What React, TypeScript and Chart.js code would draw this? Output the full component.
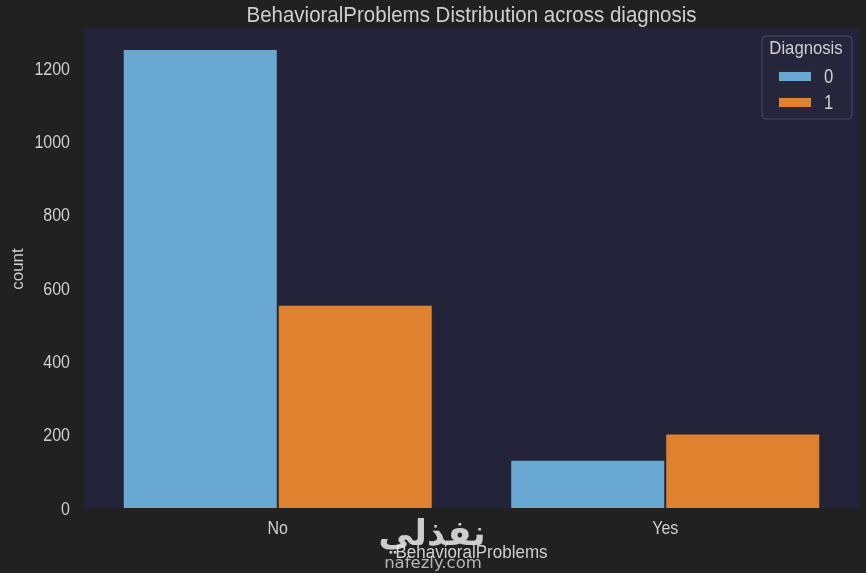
import React, { useEffect, useRef } from "react";
import { Chart, registerables } from "chart.js";

Chart.register(...registerables);

const categories = ["No", "Yes"];
const diagnosisLabels = ["0", "1"];
const diagnosis0Counts = [1253, 132];
const diagnosis1Counts = [555, 203];
const yTicks = [0, 200, 400, 600, 800, 1000, 1200];
const yMax = 1310;

const chartTitle = "BehavioralProblems Distribution across diagnosis";
const xTitle = "BehavioralProblems";
const yTitle = "count";
const legendTitle = "Diagnosis";

const colors = ["#69a8d3", "#e0812f"];
const textColor = "#cfcfcf";
const FONT = "'Liberation Sans', Arial, sans-serif";

function drawText(
  ctx: CanvasRenderingContext2D,
  text: string,
  x: number,
  baseline: number,
  size: number,
  align: CanvasTextAlign,
  vScale: number
) {
  ctx.save();
  ctx.translate(x, baseline);
  ctx.scale(1, vScale);
  ctx.font = `${size}px ${FONT}`;
  ctx.textAlign = align;
  ctx.textBaseline = "alphabetic";
  ctx.fillStyle = textColor;
  ctx.fillText(text, 0, 0);
  ctx.restore();
}

const decorPlugin = {
  id: "decor",
  beforeDraw(chart: any) {
    const { ctx, chartArea } = chart;
    ctx.save();
    ctx.fillStyle = "#23233a";
    ctx.fillRect(chartArea.left, chartArea.top, chartArea.right - chartArea.left, chartArea.bottom - chartArea.top);
    ctx.restore();
  },
  afterDraw(chart: any) {
    const { ctx, chartArea } = chart;
    const xs = chart.scales.x;
    const ys = chart.scales.y;
    const cx = (chartArea.left + chartArea.right) / 2;

    // title
    drawText(ctx, chartTitle, cx, 22, 20.5, "center", 1.1);

    // y ticks
    ys.ticks.forEach((t: any, i: number) => {
      const py = ys.getPixelForTick(i);
      drawText(ctx, String(t.value), chartArea.left - 14, py + 6.6, 16, "right", 1.16);
    });
    // x ticks
    xs.ticks.forEach((t: any, i: number) => {
      const px = xs.getPixelForTick(i);
      drawText(ctx, String(categories[i]), px, chartArea.bottom + 26, 16, "center", 1.16);
    });
    // x title
    drawText(ctx, xTitle, cx, chartArea.bottom + 50, 17, "center", 1.05);
    // y title
    ctx.save();
    ctx.translate(23, (chartArea.top + chartArea.bottom) / 2 + 1);
    ctx.rotate(-Math.PI / 2);
    ctx.font = `17px ${FONT}`;
    ctx.textAlign = "center";
    ctx.textBaseline = "alphabetic";
    ctx.fillStyle = textColor;
    ctx.fillText(yTitle, 0, 0);
    ctx.restore();

    // legend
    ctx.save();
    const bx = chartArea.right - 97;
    const by = chartArea.top + 8;
    const bw = 90;
    const bh = 83;
    const r = 4;
    ctx.beginPath();
    ctx.moveTo(bx + r, by);
    ctx.lineTo(bx + bw - r, by);
    ctx.quadraticCurveTo(bx + bw, by, bx + bw, by + r);
    ctx.lineTo(bx + bw, by + bh - r);
    ctx.quadraticCurveTo(bx + bw, by + bh, bx + bw - r, by + bh);
    ctx.lineTo(bx + r, by + bh);
    ctx.quadraticCurveTo(bx, by + bh, bx, by + bh - r);
    ctx.lineTo(bx, by + r);
    ctx.quadraticCurveTo(bx, by, bx + r, by);
    ctx.closePath();
    ctx.fillStyle = "#25263c";
    ctx.fill();
    ctx.strokeStyle = "#4a4b5c";
    ctx.lineWidth = 1;
    ctx.stroke();
    ctx.restore();

    drawText(ctx, legendTitle, bx + 44, by + 18, 16.7, "center", 1.1);
    chart.data.datasets.forEach((ds: any, i: number) => {
      const top = by + 35 + i * 26;
      ctx.save();
      ctx.fillStyle = ds.backgroundColor;
      ctx.fillRect(bx + 16, top, 34, 11);
      ctx.strokeStyle = "#2b2b2b";
      ctx.lineWidth = 1;
      ctx.strokeRect(bx + 16.5, top + 0.5, 33, 10);
      ctx.restore();
      drawText(ctx, ds.label, bx + 62, top + 12, 16.7, "left", 1.16);
    });
  },
};

export default function App() {
  const ref = useRef<HTMLCanvasElement>(null);

  useEffect(() => {
    document.body.style.margin = "0";
    const chart = new Chart(ref.current as HTMLCanvasElement, {
      type: "bar",
      data: {
        labels: categories,
        datasets: [
          {
            label: diagnosisLabels[0],
            data: diagnosis0Counts,
            backgroundColor: colors[0],
            borderColor: "#2b2b2b",
            borderWidth: 1,
            categoryPercentage: 0.8,
            barPercentage: 1.0,
          },
          {
            label: diagnosisLabels[1],
            data: diagnosis1Counts,
            backgroundColor: colors[1],
            borderColor: "#2b2b2b",
            borderWidth: 1,
            categoryPercentage: 0.8,
            barPercentage: 1.0,
          },
        ],
      },
      options: {
        animation: false,
        responsive: false,
        maintainAspectRatio: false,
        layout: { padding: { top: 28, right: 7, left: 0, bottom: 0 } },
        plugins: {
          legend: { display: false },
          title: { display: false },
          tooltip: { enabled: false },
        },
        scales: {
          x: {
            grid: { display: false },
            border: { display: false },
            ticks: { display: false },
            afterFit: (s: any) => {
              s.height = 65;
            },
          },
          y: {
            min: 0,
            max: yMax,
            afterBuildTicks: (s: any) => {
              s.ticks = yTicks.map((v) => ({ value: v }));
            },
            grid: { display: false },
            border: { display: false },
            ticks: { display: false },
            afterFit: (s: any) => {
              s.width = 84;
            },
          },
        },
      },
      plugins: [decorPlugin],
    });
    return () => chart.destroy();
  }, []);

  return (
    <div style={{ position: "fixed", left: 0, top: 0, width: 866, height: 573, background: "#212121" }}>
      <canvas ref={ref} width={866} height={573} style={{ display: "block" }} />
      <div
        style={{
          position: "absolute",
          left: 376,
          top: 511,
          width: 112,
          textAlign: "center",
          color: "rgba(235,235,235,0.85)",
          fontFamily: "'DejaVu Sans', sans-serif",
          fontWeight: "bold",
          fontSize: 35,
          lineHeight: "44px",
          pointerEvents: "none",
        }}
      >
        نفذلي
      </div>
      <div
        style={{
          position: "absolute",
          left: 378,
          top: 553,
          width: 110,
          textAlign: "center",
          color: "rgba(220,220,220,0.8)",
          fontFamily: "'DejaVu Sans', sans-serif",
          fontSize: 16.5,
          lineHeight: "20px",
          pointerEvents: "none",
        }}
      >
        nafezly.com
      </div>
    </div>
  );
}
